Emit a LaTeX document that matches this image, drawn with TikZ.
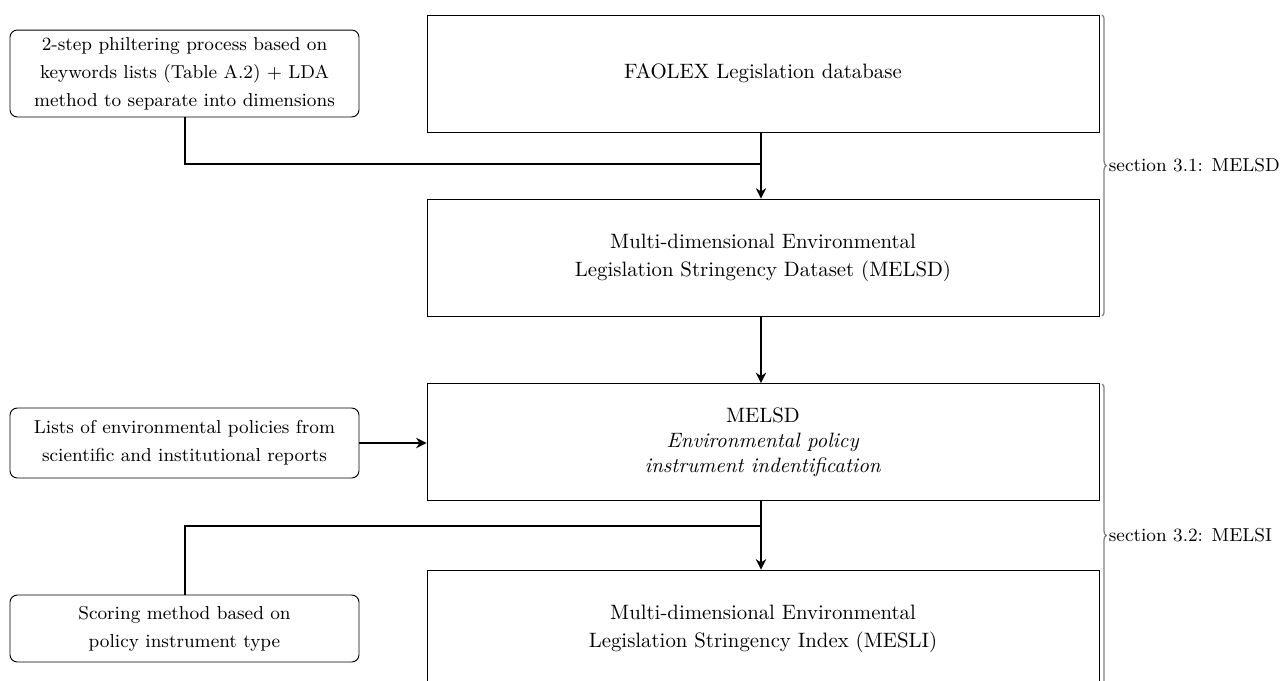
\documentclass[tikz,border=0pt]{standalone}
\usetikzlibrary{arrows.meta,decorations.pathreplacing,calc}
\begin{document}
\begin{tikzpicture}[x=0.4808pt,y=-0.4808pt,
  bigbox/.style={draw,line width=0.45pt,minimum width=323.1pt,minimum height=56.25pt,align=center,inner sep=0pt},
  sidebox/.style={draw,line width=0.45pt,rounded corners=3.5pt,minimum width=167.8pt,align=center,inner sep=0pt,font=\small},
  conn/.style={line width=0.8pt},
  arr/.style={line width=0.8pt,-{Stealth[length=5pt,width=5pt]}},
  sbrace/.style={decorate,decoration={brace,amplitude=2pt},draw=gray,line width=0.6pt},
  blabel/.style={anchor=west,font=\small,inner sep=0.5pt}]
\useasboundingbox (0,0) rectangle (1280,680);
\node[bigbox] (b1) at (763,73.5) {FAOLEX Legislation database};
\node[bigbox] (b2) at (763,257.5) {Multi-dimensional Environmental\\[1.5pt] Legislation Stringency Dataset (MELSD)};
\node[bigbox] (b3) at (763,442) {MELSD\\ \textit{Environmental policy}\\ \textit{instrument indentification}};
\node[bigbox] (b4) at (763,628.5) {Multi-dimensional Environmental\\[1.5pt] Legislation Stringency Index (MESLI)};
\node[sidebox,minimum height=41.8pt] (l1) at (184.5,73.5) {2-step philtering process based on\\[2.5pt] keywords lists (Table A.2) + LDA\\[2.5pt] method to separate into dimensions};
\node[sidebox,minimum height=33.65pt] (l2) at (184.5,443) {Lists of environmental policies from\\[2.5pt] scientific and institutional reports};
\node[sidebox,minimum height=32.2pt] (l3) at (184.5,628.5) {Scoring method based on\\[2.5pt] policy instrument type};
\coordinate (j1) at (761,164);
\coordinate (j2) at (761,526);
\draw[arr] (b1.south -| j1) -- (b2.north -| j1);
\draw[conn] (l1.south -| 185,0) |- (j1);
\draw[arr] (b2.south -| j1) -- (b3.north -| j1);
\draw[arr] (l2.east) -- (l2.east -| b3.west);
\draw[arr] (b3.south -| j2) -- (b4.north -| j2);
\draw[conn] (l3.north -| 185,0) |- (j2);
\draw[sbrace] (1102,15) -- (1102,316) node[midway,blabel,xshift=2.5pt] (s1) {section 3.1: MELSD};
\draw[sbrace] (1102,384) -- (1102,687) node[midway,blabel,xshift=2.5pt] (s2) {section 3.2: MELSI};
\end{tikzpicture}
\end{document}
